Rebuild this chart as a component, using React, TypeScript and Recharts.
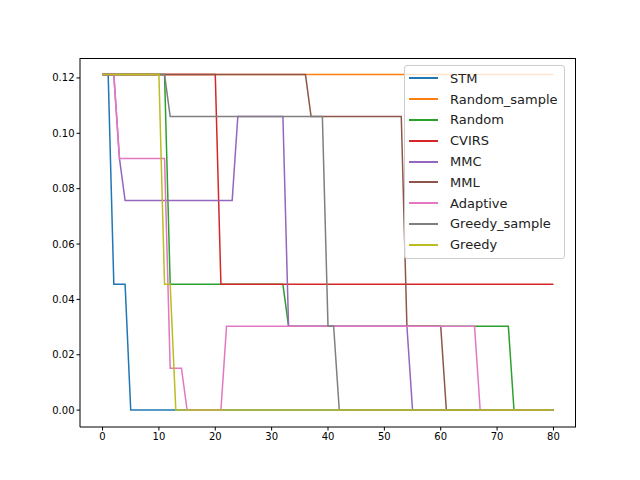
import React from 'react';
import { LineChart, Line, XAxis, YAxis } from 'recharts';

const u = 1 / 66;
const names = ['STM', 'Random_sample', 'Random', 'CVIRS', 'MMC', 'MML', 'Adaptive', 'Greedy_sample', 'Greedy'];
const colors = ['#1f77b4', '#ff7f0e', '#2ca02c', '#d62728', '#9467bd', '#8c564b', '#e377c2', '#7f7f7f', '#bcbd22'];

// [x, level] breakpoints, level in units of 1/66
const stm = [[0, 8], [1, 8], [2, 3], [4, 3], [5, 0], [80, 0]];
const randomSample = [[0, 8], [80, 8]];
const random = [[0, 8], [11, 8], [12, 3], [32, 3], [33, 2], [72, 2], [73, 0], [80, 0]];
const cvirs = [[0, 8], [20, 8], [21, 3], [80, 3]];
const mmc = [[0, 8], [2, 8], [3, 6], [4, 5], [23, 5], [24, 7], [32, 7], [33, 2], [54, 2], [55, 0], [80, 0]];
const mml = [[0, 8], [36, 8], [37, 7], [53, 7], [54, 2], [60, 2], [61, 0], [80, 0]];
const adaptive = [[0, 8], [2, 8], [3, 6], [11, 6], [12, 1], [14, 1], [15, 0], [21, 0], [22, 2], [66, 2], [67, 0], [80, 0]];
const greedySample = [[0, 8], [11, 8], [12, 7], [39, 7], [40, 2], [41, 2], [42, 0], [80, 0]];
const greedy = [[0, 8], [10, 8], [11, 3], [12, 3], [13, 0], [80, 0]];

const series = [stm, randomSample, random, cvirs, mmc, mml, adaptive, greedySample, greedy];
const yTicks = [0, 0.02, 0.04, 0.06, 0.08, 0.1, 0.12];
const xTicks = [0, 10, 20, 30, 40, 50, 60, 70, 80];

const font = 'DejaVu Sans, sans-serif';

const LegendBox = () => (
  <div style={{ position: 'absolute', left: 404, top: 65, border: '1px solid #ccc', borderRadius: 3, background: 'rgba(255,255,255,0.8)', padding: '2px 6px 3px 4px', fontFamily: font, fontSize: 13 }}>
    {names.map((n, i) => (
      <div key={n} style={{ display: 'flex', alignItems: 'center', height: 20.8 }}>
        <span style={{ display: 'inline-block', width: 29, height: 2, background: colors[i], marginRight: 12 }} />
        <span style={{ color: '#222' }}>{n}</span>
      </div>
    ))}
  </div>
);

export default function App() {
  return (
    <div style={{ margin: -8, background: '#fff', position: 'relative', width: 640, height: 480 }}>
      <LineChart width={640} height={480} margin={{ top: 58, right: 64, bottom: 23, left: 0 }}>
        <XAxis type="number" dataKey="x" domain={[-4, 84]} ticks={xTicks} height={30}
          tick={{ fill: '#000', fontSize: 10, fontFamily: font }} stroke="#000" tickSize={3.5} allowDuplicatedCategory={false} />
        <YAxis type="number" domain={[-0.0061, 0.1272]} ticks={yTicks} width={80} tickFormatter={(v: number) => v.toFixed(2)}
          tick={{ fill: '#000', fontSize: 10, fontFamily: font }} stroke="#000" tickSize={3.5} />
        {series.map((s, i) => (
          <Line key={names[i]} name={names[i]} data={s.map(([x, v]) => ({ x, y: v * u }))} dataKey="y" type="linear"
            stroke={colors[i]} strokeWidth={1.5} dot={false} isAnimationActive={false} />
        ))}
      </LineChart>
      <div style={{ position: 'absolute', left: 80, top: 58, width: 496, height: 369, borderTop: '1px solid #000', borderRight: '1px solid #000', boxSizing: 'border-box', pointerEvents: 'none' }} />
      <LegendBox />
    </div>
  );
}
